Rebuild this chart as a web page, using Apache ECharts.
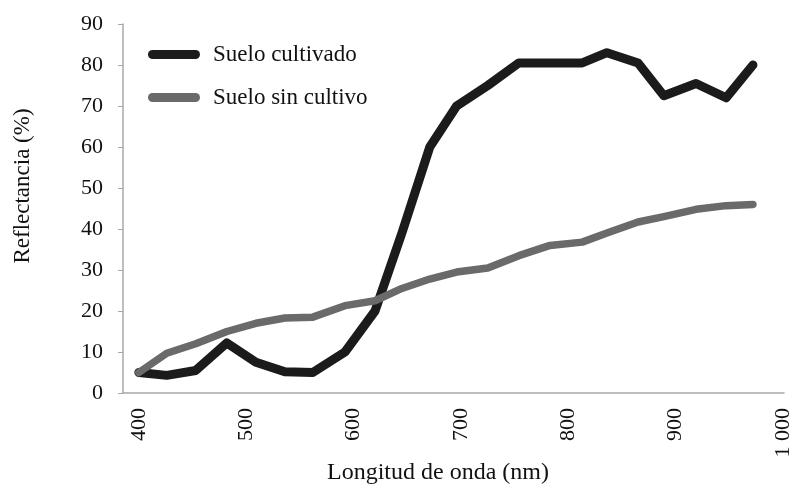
<!DOCTYPE html>
<html>
<head>
<meta charset="utf-8">
<script src="https://cdn.jsdelivr.net/npm/echarts@6/dist/echarts.min.js"></script>
<style>
html,body{margin:0;padding:0;background:#fff;}
#chart{width:794px;height:487px;}
</style>
</head>
<body>
<div id="chart"></div>
<script>
// Data
const wavelengths = [400,426,453,482,509,536,562,592,620,645,671,696,725,754,783,813,836,865,889,919,947,972];
const sueloCultivado = [5,4.3,5.5,12.2,7.5,5.2,5,10,20,39,60,70,75,80.5,80.5,80.5,83,80.5,72.5,75.5,72,80];
const sueloSinCultivo = [5,9.7,12,15,17,18.3,18.5,21.3,22.5,25.5,27.8,29.5,30.5,33.5,36,36.8,39,41.7,43,44.8,45.7,46];
const xTickLabels = [400,500,600,700,800,900,1000];
const seriesNames = ['Suelo cultivado','Suelo sin cultivo'];
const xTitle = 'Longitud de onda (nm)';
const yTitle = 'Reflectancia (%)';

const FONT = 'Liberation Serif';
const chart = echarts.init(document.getElementById('chart'));
const pairs = (xs, ys) => xs.map((x, i) => [x, ys[i]]);
const capsule = 'path://M4.5,0 H47.5 A4.5,4.5 0 0 1 47.5,9 H4.5 A4.5,4.5 0 0 1 4.5,0 Z';

chart.setOption({
  animation: false,
  backgroundColor: '#ffffff',
  grid: {left: 123, right: 0, top: 24, bottom: 94, containLabel: false},
  legend: {
    orient: 'vertical',
    left: 143, top: 38,
    itemWidth: 52, itemHeight: 9, itemGap: 20,
    icon: capsule,
    itemStyle: {borderWidth: 0},
    textStyle: {fontFamily: FONT, fontSize: 23, color: '#111', padding: [0, 0, 0, 8]},
    data: seriesNames
  },
  xAxis: {
    type: 'value',
    min: 385.25, max: 1001,
    axisLine: {show: true, lineStyle: {color: '#a8a8a8', width: 1.5}},
    axisTick: {show: false},
    splitLine: {show: false},
    axisLabel: {
      customValues: xTickLabels,
      rotate: 90, margin: 15,
      fontFamily: FONT, fontSize: 22, color: '#111',
      formatter: v => v >= 1000 ? '1 000' : String(v)
    }
  },
  yAxis: {
    type: 'value',
    min: 0, max: 90, interval: 10,
    axisLine: {show: true, lineStyle: {color: '#a8a8a8', width: 1.5}},
    axisTick: {show: true, length: 5, lineStyle: {color: '#a8a8a8'}},
    splitLine: {show: false},
    axisLabel: {margin: 20, fontFamily: FONT, fontSize: 22, color: '#111'}
  },
  graphic: [
    {type: 'text', x: 438, y: 473, style: {text: xTitle, fontFamily: FONT, fontSize: 24, fill: '#111', align: 'center', verticalAlign: 'middle'}},
    {type: 'text', x: 23, y: 186, rotation: Math.PI / 2, style: {text: yTitle, fontFamily: FONT, fontSize: 23, fill: '#111', align: 'center', verticalAlign: 'middle'}}
  ],
  series: [
    {
      name: seriesNames[0], type: 'line', data: pairs(wavelengths, sueloCultivado),
      symbol: 'none', color: '#1b1b1b',
      lineStyle: {width: 9, color: '#1b1b1b', cap: 'round', join: 'round'}
    },
    {
      name: seriesNames[1], type: 'line', data: pairs(wavelengths, sueloSinCultivo),
      symbol: 'none', color: '#6a6a6a',
      lineStyle: {width: 7.5, color: '#6a6a6a', cap: 'round', join: 'round'}
    }
  ]
});
</script>
</body>
</html>
